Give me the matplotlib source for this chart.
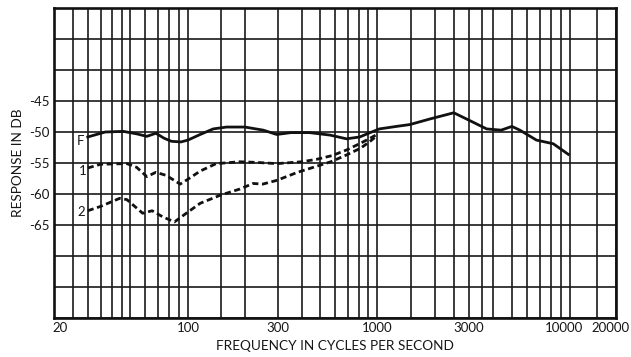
import numpy as np
import matplotlib
matplotlib.use("Agg")
import matplotlib.pyplot as plt
from matplotlib.transforms import ScaledTranslation

# Response curves (frequency in Hz, response in dB)
freq_f = [30, 37, 46, 54, 61, 68, 75, 82, 92, 100, 116, 136, 160, 200, 250,
          295, 350, 440, 565, 690, 810, 920, 1030, 1260, 1480, 1880, 2500,
          3000, 3700, 4400, 5000, 5500, 6700, 8200, 9800]
resp_f = [-50.8, -50.0, -49.9, -50.3, -50.7, -50.2, -51.0, -51.5, -51.6, -51.3,
          -50.4, -49.5, -49.2, -49.2, -49.7, -50.4, -50.1, -50.1, -50.5, -51.1,
          -50.8, -50.1, -49.5, -49.1, -48.8, -47.9, -46.9, -48.1, -49.5, -49.7,
          -49.1, -49.7, -51.3, -51.9, -53.6]

freq_1 = [30, 35, 48, 54, 61, 68, 77, 91, 99, 116, 141, 188, 230, 295, 400,
          480, 580, 690, 820, 920, 1000]
resp_1 = [-55.8, -55.2, -55.1, -55.7, -57.2, -56.5, -57.0, -58.4, -57.7, -56.3,
          -55.1, -54.8, -54.9, -55.1, -54.8, -54.4, -53.8, -52.9, -51.8, -51.0,
          -50.4]

freq_2 = [30, 35, 44, 48, 58, 65, 74, 85, 98, 116, 148, 188, 221, 249, 295,
          380, 460, 570, 690, 820, 920, 1000]
resp_2 = [-62.7, -62.0, -60.7, -60.9, -63.1, -62.7, -63.7, -64.5, -63.1, -61.5,
          -60.2, -59.2, -58.3, -58.4, -57.8, -56.5, -55.7, -54.8, -53.7, -52.6,
          -51.5, -50.6]

curve_names = ["F", "1", "2"]

x_tick_vals = [20, 100, 300, 1000, 3000, 10000, 20000]
x_tick_labels = ["20", "100", "300", "1000", "3000", "10000", "20000"]
x_grid_vals = [25, 30, 35, 40, 45, 50, 60, 70, 80, 90, 150, 200, 400, 500,
               600, 700, 800, 900, 1500, 2000, 2500, 3500, 4000, 5000, 6000,
               7000, 8000, 9000, 15000]
y_tick_vals = [-45, -50, -55, -60, -65]
y_grid_vals = [-80, -75, -70, -40, -35, -30]

# the printed chart paper is not a perfectly uniform log scale; map each
# decade onto its own share of the axis width
dec_logs = np.log10([20, 100, 1000, 10000, 20000])
dec_frac = np.array([0.0, 0.2384, 0.5747, 0.9181, 1.0])
s0 = (dec_frac[1] - dec_frac[0]) / (dec_logs[1] - dec_logs[0])
s1 = (dec_frac[-1] - dec_frac[-2]) / (dec_logs[-1] - dec_logs[-2])
ext_logs = np.concatenate([[-3], dec_logs, [8]])
ext_frac = np.concatenate([[dec_frac[0] - s0 * (dec_logs[0] + 3)], dec_frac,
                           [dec_frac[-1] + s1 * (8 - dec_logs[-1])]])


def fwd(x):
    x = np.maximum(np.asarray(x, dtype=float), 1e-3)
    return np.interp(np.log10(x), ext_logs, ext_frac)


def inv(y):
    return 10 ** np.interp(np.asarray(y, dtype=float), ext_frac, ext_logs)


plt.rcParams['font.family'] = ['Lato', 'DejaVu Sans']
txt_color = '#161616'

fig = plt.figure(figsize=(6.31, 3.57), dpi=100)
ax = fig.add_axes([0.0856, 0.1092, 0.8906, 0.8684])
ax.set_xscale('function', functions=(fwd, inv))
ax.set_xlim(20, 20000)
ax.set_ylim(-80, -30)

ax.set_xticks(x_tick_vals, x_tick_labels)
ax.set_xticks(x_grid_vals, minor=True)
ax.set_yticks(y_tick_vals, [str(v) for v in y_tick_vals])
ax.set_yticks(y_grid_vals, minor=True)
ax.tick_params(which='both', length=0, labelsize=9.5, colors=txt_color)
ax.tick_params(axis='x', pad=3)
ax.tick_params(axis='y', pad=3)
ax.grid(True, which='both', color='#1a1a1a', linewidth=1.2)
ax.set_axisbelow(True)
for sp in ax.spines.values():
    sp.set_linewidth(1.9)
    sp.set_color('#111111')

# the printed labels sit a little off their lines at the ends
label_shift = {"20": 6, "10000": -6, "20000": -5}
for lbl in ax.get_xticklabels():
    dx = label_shift.get(lbl.get_text(), 0)
    if dx:
        lbl.set_transform(lbl.get_transform() +
                          ScaledTranslation(dx / 100, 0, fig.dpi_scale_trans))

ax.plot(freq_f, resp_f, color='#111111', linewidth=2.0, solid_joinstyle='round')
ax.plot(freq_1, resp_1, color='#111111', linewidth=2.0, dashes=(2.2, 1.3))
ax.plot(freq_2, resp_2, color='#111111', linewidth=2.0, dashes=(2.2, 1.3))

for name, fx, fy, off in zip(curve_names, [freq_f, freq_1, freq_2],
                             [resp_f, resp_1, resp_2],
                             [(-5.5, -3), (-3.5, -2), (-5, -1)]):
    ax.annotate(name, (fx[0], fy[0]), xytext=off, textcoords='offset points',
                ha='center', va='center', fontsize=9.5, color=txt_color)

ax.set_xlabel('FREQUENCY IN CYCLES PER SECOND', fontsize=9.8, color=txt_color,
              labelpad=4)
ax.set_ylabel('RESPONSE IN DB', fontsize=9.8, color=txt_color, labelpad=4)

fig.savefig('out.png', dpi=100, facecolor='white')
